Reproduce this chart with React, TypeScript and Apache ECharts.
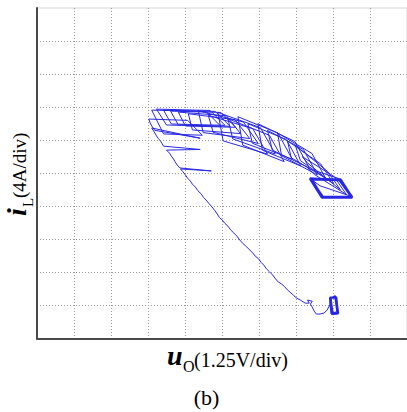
import React, { useEffect, useRef } from 'react';
import * as echarts from 'echarts';

// Axis ranges in divisions (x: 1.25 V/div, y: 4 A/div)
const X_RANGE = [0, 10];
const Y_RANGE = [0, 10];

// Initial steady-state loop (low current)
const steadyLoopStart: [number, number][] = [
  [7.93, 1.22], [8.07, 1.27], [8.13, 0.78], [7.98, 0.75],
  [7.92, 1.24], [8.08, 1.25], [8.14, 0.76], [7.97, 0.74],
  [7.94, 1.21], [8.06, 1.28], [8.12, 0.79], [7.99, 0.76],
  [7.93, 1.23], [8.09, 1.24], [8.13, 0.77], [7.96, 0.75],
  [7.92, 1.22], [8.07, 1.26], [8.12, 0.77], [7.97, 0.76], [7.93, 1.22],
];

// Transient ramp with "teeth"
const rampUp: [number, number][] = [
  [7.93, 1.22], [7.92, 1.03], [7.84, 0.86], [7.76, 0.77], [7.65, 0.74], [7.55, 0.74], [7.49, 0.83],
  [7.44, 0.95], [7.39, 1.04], [7.44, 1.13], [7.31, 1.16], [7.36, 1.07], [7.25, 1.07],
  [7.12, 1.16], [7.02, 1.22], [6.93, 1.31], [6.84, 1.40], [6.77, 1.47], [6.69, 1.57],
  [6.61, 1.65], [6.52, 1.71], [6.45, 1.80], [6.37, 1.92], [6.29, 2.01], [6.20, 2.11],
  [6.13, 2.22], [6.06, 2.30], [5.99, 2.41], [5.90, 2.49], [5.83, 2.59], [5.73, 2.70],
  [5.64, 2.80], [5.56, 2.88], [5.48, 2.98], [5.40, 3.10], [5.32, 3.19], [5.23, 3.29],
  [5.16, 3.40], [5.08, 3.48], [5.00, 3.59], [4.93, 3.66], [4.87, 3.77], [4.80, 3.88],
  [4.73, 3.98], [4.65, 4.08], [4.57, 4.19], [4.50, 4.27], [4.44, 4.37], [4.35, 4.47],
  [4.28, 4.58], [4.20, 4.67], [4.14, 4.77], [4.07, 4.85], [4.01, 4.95], [3.94, 5.05],
  [3.88, 5.13], [4.71, 5.07], [3.86, 5.16],
  [3.79, 5.25], [3.73, 5.35], [3.69, 5.43], [3.63, 5.52], [3.58, 5.61], [3.50, 5.70],
  [4.41, 5.72], [3.42, 5.82],
  [3.38, 5.90], [3.34, 5.97], [3.28, 6.05], [3.23, 6.13], [3.15, 6.28], [3.10, 6.37],
  [4.41, 6.06], [3.18, 6.30],
  [3.12, 6.40], [3.07, 6.49],
];

// Decaying oscillation loops
const oscillation: [number, number][] = [
  [3.02, 6.64], [4.07, 6.60], [4.47, 6.15], [3.42, 6.19],
  [3.10, 6.91], [4.57, 6.87], [4.97, 6.42], [3.50, 6.46],
  [3.23, 6.94], [4.68, 6.90], [5.08, 6.45], [3.63, 6.49],
  [3.42, 6.91], [4.82, 6.87], [5.22, 6.42], [3.82, 6.46],
  [3.61, 6.88], [4.97, 6.84], [5.37, 6.39], [4.01, 6.43],
  [3.82, 6.85], [5.12, 6.74], [5.50, 6.20], [4.20, 6.31],
  [4.09, 6.80], [5.35, 6.62], [5.75, 6.05], [4.49, 6.23],
  [4.36, 6.89], [5.58, 6.55], [5.98, 5.90], [4.76, 6.24],
  [4.63, 6.75], [5.83, 6.35], [6.23, 5.58], [5.03, 5.98],
  [4.89, 6.84], [6.04, 6.38], [6.44, 5.58], [5.29, 6.04],
  [5.16, 6.65], [6.28, 6.15], [6.68, 5.35], [5.56, 5.85],
  [5.43, 6.71], [6.51, 6.22], [6.90, 5.42], [5.82, 5.91],
  [5.70, 6.50], [6.74, 6.02], [7.13, 5.22], [6.09, 5.70],
  [5.97, 6.50], [6.97, 5.96], [7.36, 5.16], [6.36, 5.70],
  [6.23, 6.30], [7.20, 5.72], [7.58, 4.95], [6.61, 5.53],
  [6.50, 6.22], [7.43, 5.60], [7.80, 4.85], [6.87, 5.47],
  [6.77, 5.98], [7.67, 5.28], [8.02, 4.68], [7.12, 5.38],
  [6.98, 5.85], [7.86, 5.05], [8.20, 4.50], [7.32, 5.30],
  [7.17, 5.50], [8.03, 4.90], [8.36, 4.36], [7.50, 4.96],
  [7.32, 5.15], [8.16, 4.84], [8.47, 4.31], [7.65, 4.62],
];

// Final steady-state loop (high current)
const steadyLoopEnd: [number, number][] = [
  [7.39, 4.83], [8.19, 4.80], [8.51, 4.28], [7.71, 4.28],
  [7.40, 4.82], [8.20, 4.81], [8.50, 4.29], [7.70, 4.27],
  [7.38, 4.84], [8.18, 4.79], [8.52, 4.27], [7.72, 4.29],
  [7.39, 4.82], [8.19, 4.80], [8.51, 4.28], [7.71, 4.28],
  [7.41, 4.83], [8.21, 4.80], [8.50, 4.28], [7.70, 4.28],
  [7.39, 4.83],
];

const SERIF = '"Liberation Serif", "Times New Roman", serif';
const BLUE = '#2828e4';

export default function App() {
  const ref = useRef<HTMLDivElement>(null);
  useEffect(() => {
    if (!ref.current) return;
    const chart = echarts.init(ref.current, null, { renderer: 'svg' });
    const transient = [...rampUp, ...oscillation, steadyLoopEnd[0]];
    const axisCommon = {
      type: 'value' as const,
      interval: 1,
      axisTick: { show: false },
      axisLabel: { show: false },
      axisLine: { show: true, onZero: false, lineStyle: { color: '#4a4a4a', width: 2 } },
      splitLine: {
        show: true,
        showMinLine: false,
        showMaxLine: false,
        lineStyle: { color: '#9a9a9a', width: 1, type: [1, 2] },
      },
    };
    const lineSeries = (data: [number, number][], width: number) => ({
      type: 'line',
      data,
      showSymbol: false,
      symbol: 'none',
      lineStyle: { color: BLUE, width },
      z: 5,
    });
    chart.setOption({
      animation: false,
      grid: {
        left: 37, top: 8, width: 373.3, height: 330.5,
        show: true, borderColor: '#d6d6d6', borderWidth: 1,
      },
      xAxis: { ...axisCommon, min: X_RANGE[0], max: X_RANGE[1] },
      yAxis: { ...axisCommon, min: Y_RANGE[0], max: Y_RANGE[1] },
      series: [
        lineSeries(steadyLoopStart, 2.2),
        lineSeries(transient, 1),
        lineSeries(steadyLoopEnd, 2.6),
      ],
      graphic: [
        // y axis label: i_L(4A/div), rotated
        { type: 'text', x: 16.5, y: 216, rotation: Math.PI / 2,
          style: { text: 'i', font: `italic bold 28px ${SERIF}`, fill: '#000', align: 'left', verticalAlign: 'middle' } },
        { type: 'text', x: 28, y: 207, rotation: Math.PI / 2,
          style: { text: 'L', font: `15px ${SERIF}`, fill: '#000', align: 'left', verticalAlign: 'middle' } },
        { type: 'text', x: 19.5, y: 198, rotation: Math.PI / 2,
          style: { text: '(4A/div)', font: `19px ${SERIF}`, fill: '#000', align: 'left', verticalAlign: 'middle' } },
        // x axis label: u_O(1.25V/div)
        { type: 'text', x: 167, y: 355.5,
          style: { text: 'u', font: `italic bold 28px ${SERIF}`, fill: '#000', align: 'left', verticalAlign: 'middle' } },
        { type: 'text', x: 183, y: 366.5,
          style: { text: 'O', font: `16px ${SERIF}`, fill: '#000', align: 'left', verticalAlign: 'middle' } },
        { type: 'text', x: 194, y: 360,
          style: { text: '(1.25V/div)', font: `20px ${SERIF}`, fill: '#000', align: 'left', verticalAlign: 'middle' } },
        // caption
        { type: 'text', x: 206.5, y: 397,
          style: { text: '(b)', font: `22px ${SERIF}`, fill: '#000', align: 'center', verticalAlign: 'middle' } },
      ],
    });
    return () => chart.dispose();
  }, []);
  return (
    <div
      ref={ref}
      style={{ position: 'fixed', left: 0, top: 0, width: 407, height: 412, background: '#fff' }}
    />
  );
}
